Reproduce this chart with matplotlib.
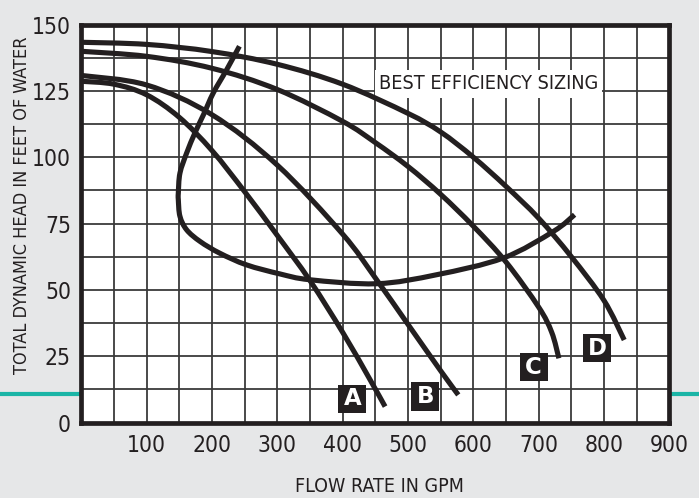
import numpy as np
import matplotlib
matplotlib.use("Agg")
import matplotlib.pyplot as plt
from matplotlib.lines import Line2D
from matplotlib.patches import Rectangle, PathPatch
from matplotlib.path import Path

# ---------------- data ----------------
x_ticks = [100, 200, 300, 400, 500, 600, 700, 800, 900]
y_ticks = [0, 25, 50, 75, 100, 125, 150]

curve_a_x = [0, 50, 100, 150, 200, 250, 300, 350, 400, 440, 465]
curve_a_y = [128.6, 127.5, 123.5, 115.0, 102.5, 87.0, 70.5, 53.5, 34.0, 17.0, 6.0]

curve_b_x = [0, 100, 200, 300, 400, 450, 500, 550, 577]
curve_b_y = [130.8, 127.2, 116.0, 97.0, 71.0, 54.5, 37.0, 19.5, 10.4]

curve_c_x = [0, 100, 200, 300, 400, 450, 500, 550, 600, 650, 700, 720, 731]
curve_c_y = [139.9, 138.0, 133.5, 125.5, 113.5, 105.5, 96.5, 86.0, 74.0, 60.5, 43.5, 34.0, 24.2]

curve_d_x = [0, 100, 200, 300, 400, 500, 550, 600, 650, 700, 750, 800, 831]
curve_d_y = [143.3, 142.5, 139.8, 135.0, 127.5, 116.5, 109.5, 100.0, 89.0, 77.0, 62.5, 46.0, 31.1]

eff_x = [242, 222.6, 202, 187, 174, 161.3, 151, 148.5, 148.5, 151, 161.3, 182, 212, 253, 304,
         350, 452, 544, 646, 722.5, 755]
eff_y = [141.8, 133.0, 124.2, 116.0, 109.2, 101.6, 94.0, 86.5, 84.0, 77.7, 72.6, 68.2, 63.8,
         59.4, 56.0, 53.8, 52.3, 55.7, 62.0, 72.0, 78.3]

curve_names = ["A", "B", "C", "D"]
label_x = [415.1, 526.6, 692.5, 789.8]
label_y = [8.9, 9.8, 20.8, 28.0]

eff_label = "BEST EFFICIENCY SIZING"
eff_label_x = 623.8
eff_label_y = 127.7

x_title = "FLOW RATE IN GPM"
y_title = "TOTAL DYNAMIC HEAD IN FEET OF WATER"

# ---------------- style ----------------
COND = dict(family="DejaVu Sans", stretch="condensed")
INK = "#231f20"
BG = "#e6e7e8"
TEAL = "#1ab5a6"

W, H = 699, 498
fig = plt.figure(figsize=(W / 100, H / 100), dpi=100, facecolor=BG)

# teal rule behind the chart
ty = 1 - 393.5 / H
fig.add_artist(Line2D([0, 1], [ty, ty], transform=fig.transFigure,
                      color=TEAL, lw=3.0, zorder=-1))

left, right, top, bottom = 81.3, 669.3, 24.5, 422.5
ax = fig.add_axes([left / W, 1 - bottom / H, (right - left) / W, (bottom - top) / H])
ax.set_facecolor("white")
ax.set_xlim(0, 900)
ax.set_ylim(0, 150)

ax.set_xticks(x_ticks)
ax.set_xticklabels([str(v) for v in x_ticks], color=INK, **COND)
ax.set_xticks(np.arange(0, 901, 50), minor=True)
ax.set_yticks(y_ticks)
ax.set_yticklabels([str(v) for v in y_ticks], color=INK, **COND)
ax.set_yticks(np.arange(0, 151, 12.5), minor=True)
ax.grid(which="both", color="#3a3a3a", lw=1.3)
ax.tick_params(which="both", length=0)
ax.tick_params(axis="y", pad=7.5)
ax.tick_params(axis="x", pad=8)

for s in ax.spines.values():
    s.set_linewidth(3.4)
    s.set_color(INK)


def smooth_path(xs, ys):
    """Bezier path (Catmull-Rom control points) through the read points."""
    P = np.column_stack([xs, ys]).astype(float)
    n = len(P)
    verts = [P[0]]
    codes = [Path.MOVETO]
    for i in range(n - 1):
        p0 = P[i - 1] if i > 0 else P[i]
        p1, p2 = P[i], P[i + 1]
        p3 = P[i + 2] if i + 2 < n else P[i + 1]
        c1 = p1 + (p2 - p0) / 6.0
        c2 = p2 - (p3 - p1) / 6.0
        verts += [c1, c2, p2]
        codes += [Path.CURVE4] * 3
    return Path(verts, codes)


lw = 3.7
for xs, ys in [(curve_a_x, curve_a_y), (curve_b_x, curve_b_y),
               (curve_c_x, curve_c_y), (curve_d_x, curve_d_y), (eff_x, eff_y)]:
    ax.add_patch(PathPatch(smooth_path(xs, ys), fill=False, ec=INK, lw=lw,
                           joinstyle="round", capstyle="butt", zorder=2))

# curve letter boxes
bw, bh = 28 / 0.6533, 28 / 2.65
for n, cx, cy in zip(curve_names, label_x, label_y):
    ax.add_patch(Rectangle((cx - bw / 2, cy - bh / 2), bw, bh, fc=INK, ec="none", zorder=3))
    ax.text(cx, cy, n, color="white", ha="center", va="center", fontsize=16.5,
            family="DejaVu Sans", weight="bold", zorder=4)

# white panel behind the efficiency caption (covers the grid)
px2x = lambda px: (px - left) / 0.6533
py2y = lambda py: (bottom - py) / 2.65
ax.add_patch(Rectangle((px2x(375), py2y(98)), px2x(602) - px2x(375), py2y(70) - py2y(98),
                       fc="white", ec="none", zorder=1.8))
t_eff = ax.text(eff_label_x, eff_label_y, eff_label, color=INK, ha="center",
                va="center", zorder=3, fontsize=18, **COND)

t_x = fig.text(379.5 / W, 1 - 486.7 / H, x_title, color=INK,
               ha="center", va="center", fontsize=16, **COND)
t_y = fig.text(22.5 / W, 1 - 205 / H, y_title, color=INK, rotation=90,
               ha="center", va="center", fontsize=16, **COND)

# fit text sizes to the widths measured on the reference (slightly enlarged,
# since the reference face is narrower than the available fonts)
fig.canvas.draw()
r = fig.canvas.get_renderer()


def fit(t, target, vertical=False, boost=1.0):
    bb = t.get_window_extent(r)
    cur = bb.height if vertical else bb.width
    t.set_fontsize(t.get_fontsize() * target / cur * boost)


fit(t_eff, 212, boost=1.04)
fit(t_x, 151, boost=1.12)
fit(t_y, 322, vertical=True, boost=1.05)
lab100 = ax.get_xticklabels()[0]
bb = lab100.get_window_extent(r)
tick_size = lab100.get_fontsize() * 34 / bb.width * 1.15
for lab in ax.get_xticklabels() + ax.get_yticklabels():
    lab.set_fontsize(tick_size)

fig.savefig("out.png", dpi=100, facecolor=BG)
